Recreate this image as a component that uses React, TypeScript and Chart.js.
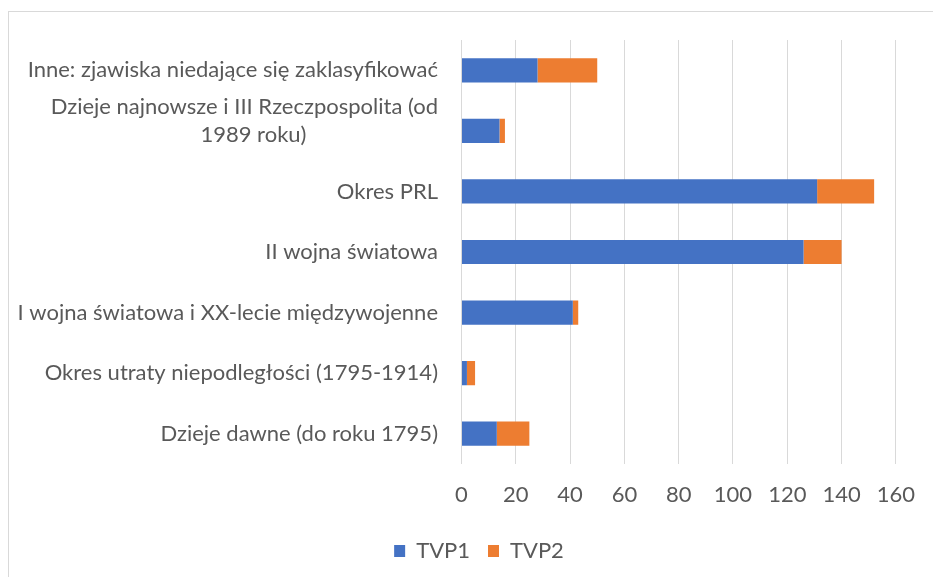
import React, { useEffect, useRef } from "react";
import { Chart, registerables } from "chart.js";

Chart.register(...registerables);

const categories: (string | string[])[] = [
  "Inne: zjawiska niedające się zaklasyfikować",
  ["Dzieje najnowsze i III Rzeczpospolita (od", "1989 roku)"],
  "Okres PRL",
  "II wojna światowa",
  "I wojna światowa i XX-lecie międzywojenne",
  "Okres utraty niepodległości (1795-1914)",
  "Dzieje dawne (do roku 1795)",
];
const tvp1 = [28, 14, 131, 126, 41, 2, 13];
const tvp2 = [22, 2, 21, 14, 2, 3, 12];
const seriesNames = ["TVP1", "TVP2"];
const xMin = 0;
const xMax = 160;
const xStep = 20;

const FONT = "Lato";
const FONT_SIZE = 22;
const TEXT = "#595959";

const yLabelPlugin = {
  id: "yLabels",
  afterDraw(chart: any) {
    const ctx = chart.ctx;
    const y = chart.scales.y;
    ctx.save();
    ctx.font = `${FONT_SIZE}px ${FONT}`;
    ctx.fillStyle = TEXT;
    ctx.textBaseline = "middle";
    const right = chart.chartArea.left - 23.5;
    categories.forEach((lab, i) => {
      const cy = y.getPixelForValue(i);
      const lines = Array.isArray(lab) ? lab : [lab];
      if (lines.length === 1) {
        ctx.textAlign = "right";
        ctx.fillText(lines[0], right, cy);
      } else {
        const widths = lines.map((l) => ctx.measureText(l).width);
        const maxW = Math.max(...widths);
        const cx = right - maxW / 2 + 9;
        ctx.textAlign = "center";
        const lh = 28;
        const startY = cy - 10 - ((lines.length - 1) * lh) / 2;
        lines.forEach((l, j) => {
          if (j === 0) {
            ctx.textAlign = "right";
            ctx.fillText(l, right, startY);
          } else {
            ctx.textAlign = "center";
            ctx.fillText(l, cx, startY + j * lh);
          }
        });
      }
    });
    ctx.restore();
  },
};

export default function App() {
  const ref = useRef<HTMLCanvasElement>(null);
  useEffect(() => {
    if (!ref.current) return;
    const chart = new Chart(ref.current, {
      type: "bar",
      data: {
        labels: categories as any,
        datasets: [
          { label: seriesNames[0], data: tvp1, backgroundColor: "#4472C4", barPercentage: 0.4, categoryPercentage: 1 },
          { label: seriesNames[1], data: tvp2, backgroundColor: "#ED7D31", barPercentage: 0.4, categoryPercentage: 1 },
        ],
      },
      options: {
        indexAxis: "y",
        responsive: false,
        animation: false,
        layout: { padding: { left: 57, right: 32, top: 40, bottom: 12 } },
        scales: {
          x: {
            stacked: true,
            min: xMin,
            max: xMax,
            ticks: { stepSize: xStep, color: TEXT, font: { family: FONT, size: FONT_SIZE }, padding: 18 },
            grid: { color: "#d9d9d9", drawTicks: false, lineWidth: 1 },
            border: { display: false },
            afterFit: (s: any) => { s.height = 58; },
          },
          y: {
            stacked: true,
            ticks: { display: false },
            grid: { display: false },
            border: { display: false },
            afterFit: (s: any) => { s.width = 404.5; },
          },
        },
        plugins: {
          legend: {
            position: "bottom",
            labels: { boxWidth: 11, boxHeight: 12, padding: 18, color: TEXT, font: { family: FONT, size: FONT_SIZE } },
          },
          tooltip: { enabled: false },
        },
      },
      plugins: [yLabelPlugin],
    });
    return () => chart.destroy();
  }, []);
  return (
    <div style={{ position: "fixed", inset: 0, overflow: "hidden", background: "#fff" }}>
      <div style={{ position: "absolute", left: 8, top: 11, width: 1000, height: 1000, border: "1px solid #d9d9d9" }} />
      <canvas ref={ref} width={933} height={584} style={{ position: "absolute", left: 0, top: 0 }} />
    </div>
  );
}
